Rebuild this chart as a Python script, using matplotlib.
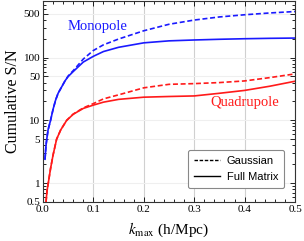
import matplotlib.pyplot as plt
import numpy as np
from matplotlib.ticker import FixedLocator, LogLocator, NullFormatter, FixedFormatter

plt.rcParams["mathtext.fontset"] = "stix"

# values
k_mono = [0.004, 0.006, 0.0075, 0.01, 0.015, 0.02, 0.025, 0.03, 0.044, 0.05, 0.06,
          0.08, 0.1, 0.12, 0.15, 0.2, 0.25, 0.3, 0.35, 0.4, 0.45, 0.5]
mono_full = [2.4, 4.0, 5.0, 7.0, 10.0, 15.0, 21.0, 27.0, 43.0, 50.0, 60.0,
             85.0, 105.0, 125.0, 146.0, 172.0, 185.0, 191.0, 196.0, 200.0, 203.0, 205.0]
mono_gauss = [2.4, 4.0, 5.0, 7.0, 10.0, 15.0, 21.0, 27.0, 43.0, 51.0, 62.0,
              95.0, 130.0, 160.0, 198.0, 268.0, 340.0, 397.0, 445.0, 482.0, 515.0, 543.0]

k_quad = [0.006, 0.008, 0.0105, 0.015, 0.02, 0.027, 0.035, 0.047, 0.06, 0.08,
          0.1, 0.12, 0.15, 0.2, 0.25, 0.3, 0.35, 0.4, 0.45, 0.5]
quad_full = [0.5, 0.75, 1.0, 1.7, 2.8, 5.0, 7.0, 10.0, 12.5, 15.5,
             17.5, 19.5, 21.6, 23.4, 24.0, 24.5, 27.0, 30.0, 35.0, 42.0]
quad_gauss = [0.5, 0.75, 1.0, 1.7, 2.8, 5.0, 7.0, 10.0, 12.6, 15.8,
              18.5, 22.0, 25.5, 33.0, 37.5, 38.5, 40.0, 42.5, 48.0, 55.0]

y_ticks = [0.5, 1, 5, 10, 50, 100, 500]
y_tick_labels = ["0.5", "1", "5", "10", "50", "100", "500"]
x_ticks = [0.0, 0.1, 0.2, 0.3, 0.4, 0.5]

serif = "Liberation Serif"
blue = "#1a1aff"
red = "#ff1a1a"

fig = plt.figure(figsize=(3.04, 2.41), dpi=100)
ax = fig.add_axes([0.1414, 0.162, 0.829, 0.834])

ax.plot(k_mono, mono_gauss, color=blue, lw=1.2, ls=(0, (3.0, 1.6)))
ax.plot(k_mono, mono_full, color=blue, lw=1.2)
ax.plot(k_quad, quad_gauss, color=red, lw=1.2, ls=(0, (3.0, 1.6)))
ax.plot(k_quad, quad_full, color=red, lw=1.2)

ax.set_yscale("log")
ax.set_xlim(0.0, 0.5)
ax.set_ylim(0.5, 800)

ax.yaxis.set_major_locator(FixedLocator(y_ticks))
ax.yaxis.set_major_formatter(FixedFormatter(y_tick_labels))
ax.yaxis.set_minor_locator(LogLocator(base=10, subs=np.arange(2, 10)))
ax.yaxis.set_minor_formatter(NullFormatter())
ax.xaxis.set_major_locator(FixedLocator(x_ticks))
ax.xaxis.set_minor_locator(FixedLocator(np.arange(0, 0.501, 0.02)))
ax.set_xticklabels([f"{v:.1f}" for v in x_ticks])

ax.tick_params(which="both", direction="in", top=True, right=True, width=0.6)
ax.tick_params(which="major", length=3.5, labelsize=8, pad=2)
ax.tick_params(which="minor", length=2)
for lab in ax.get_xticklabels() + ax.get_yticklabels():
    lab.set_fontfamily(serif)

ax.grid(True, which="major", axis="x", color="#d0d0d0", lw=0.8)
ax.grid(True, which="major", axis="y", color="#efefef", lw=0.8)
ax.set_axisbelow(True)
for s in ax.spines.values():
    s.set_linewidth(0.8)
    s.set_color("#333333")

ax.set_ylabel("Cumulative S/N", family=serif, fontsize=11.5, labelpad=2)
ax.set_xlabel(r"$k_\mathrm{max}$ (h/Mpc)", family=serif, fontsize=11, labelpad=5)

ax.text(0.109, 310, "Monopole", color=blue, family=serif, fontsize=10.5, ha="center", va="center")
ax.text(0.40, 19, "Quadrupole", color=red, family=serif, fontsize=10.5, ha="center", va="center")

h1, = ax.plot([], [], color="black", lw=1.0, ls=(0, (2.5, 1.2)))
h2, = ax.plot([], [], color="black", lw=1.0)
leg = ax.legend([h1, h2], ["Gaussian", "Full Matrix"], loc="lower right",
                bbox_to_anchor=(0.956, 0.07), borderaxespad=0,
                prop={"family": "Liberation Sans", "size": 8},
                handlelength=2.4, handletextpad=0.6, fancybox=True, framealpha=1,
                edgecolor="#888888", borderpad=0.5, labelspacing=0.6)
leg.get_frame().set_linewidth(0.8)

fig.savefig("out.png", dpi=100)
